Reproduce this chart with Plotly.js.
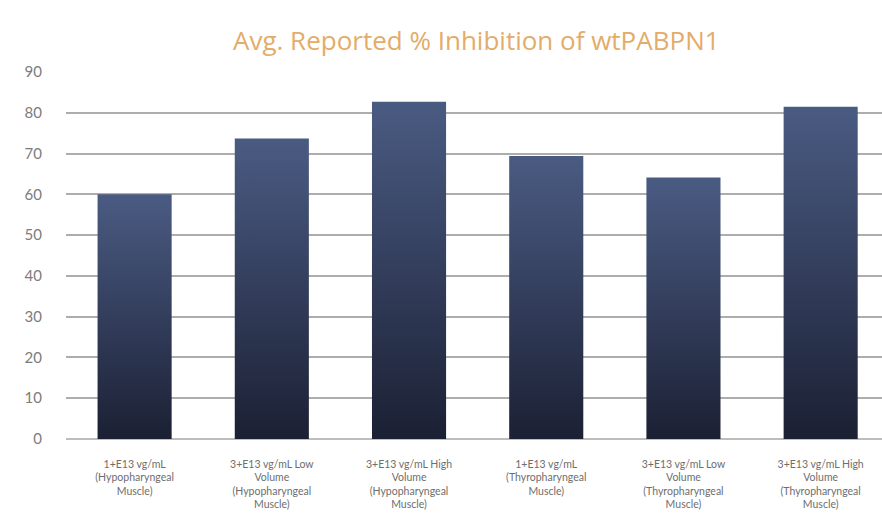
<!DOCTYPE html>
<html>
<head>
<meta charset="utf-8">
<script src="https://cdn.plot.ly/plotly-3.0.1.min.js"></script>
<style>
  html, body { margin: 0; padding: 0; background: #ffffff; }
  #chart { width: 882px; height: 524px; }
</style>
</head>
<body>
<div id="chart"></div>
<script>
// Dose groups (x categories), with line breaks as shown under each bar
const categories = [
  "1+E13 vg/mL<br>(Hypopharyngeal<br>Muscle)",
  "3+E13 vg/mL Low<br>Volume<br>(Hypopharyngeal<br>Muscle)",
  "3+E13 vg/mL High<br>Volume<br>(Hypopharyngeal<br>Muscle)",
  "1+E13 vg/mL<br>(Thyropharyngeal<br>Muscle)",
  "3+E13 vg/mL Low<br>Volume<br>(Thyropharyngeal<br>Muscle)",
  "3+E13 vg/mL High<br>Volume<br>(Thyropharyngeal<br>Muscle)"
];

// Average reported % inhibition per group
const inhibition = [60, 73.7, 82.7, 69.4, 64.1, 81.5];

// Y axis ticks
const yTicks = [0, 10, 20, 30, 40, 50, 60, 70, 80, 90];

const trace = {
  type: "bar",
  x: categories,
  y: inhibition,
  width: 0.54,
  marker: { color: "#2f3a58", line: { width: 0 } },
  hoverinfo: "y"
};

const layout = {
  width: 882,
  height: 524,
  margin: { l: 66, r: 0, t: 72, b: 85 },
  paper_bgcolor: "#ffffff",
  plot_bgcolor: "#ffffff",
  showlegend: false,
  title: {
    text: "Avg. Reported % Inhibition of wtPABPN1",
    font: { family: "Open Sans, sans-serif", size: 26, color: "#e3ac68" },
    x: 0.54,
    xanchor: "center",
    y: 0.922,
    yanchor: "middle"
  },
  xaxis: {
    type: "category",
    range: [-0.5, 5.447],
    showgrid: false,
    showline: false,
    zeroline: false,
    ticks: "",
    tickangle: 0,
    ticklabelstandoff: 17,
    tickfont: { family: "Lato, sans-serif", size: 10.5, color: "#6e6e6e" }
  },
  yaxis: {
    range: [0, 90],
    tickvals: yTicks,
    ticktext: yTicks.map(String),
    showgrid: true,
    gridcolor: "#adadad",
    gridwidth: 2,
    zeroline: true,
    zerolinecolor: "#bdbdbd",
    zerolinewidth: 2,
    showline: false,
    ticks: "",
    ticklabelstandoff: 23,
    tickfont: { family: "Lato, sans-serif", size: 15, color: "#7c7c7c" }
  }
};

// Vertical shading on each bar: lighter slate at the top to deep navy at the base
function shadeBars(gd) {
  const svg = gd.querySelector("svg.main-svg");
  if (!svg) return;
  const ns = "http://www.w3.org/2000/svg";
  let defs = svg.querySelector("defs");
  if (!defs) { defs = document.createElementNS(ns, "defs"); svg.insertBefore(defs, svg.firstChild); }
  if (!svg.querySelector("#barShade")) {
    const grad = document.createElementNS(ns, "linearGradient");
    grad.setAttribute("id", "barShade");
    grad.setAttribute("x1", "0"); grad.setAttribute("y1", "0");
    grad.setAttribute("x2", "0"); grad.setAttribute("y2", "1");
    [["0", "#4a5b82"], ["0.5", "#333e5c"], ["1", "#1b2033"]].forEach(([o, c]) => {
      const s = document.createElementNS(ns, "stop");
      s.setAttribute("offset", o); s.setAttribute("stop-color", c);
      grad.appendChild(s);
    });
    defs.appendChild(grad);
  }
  gd.querySelectorAll(".bars .point path").forEach(p => { p.style.fill = "url(#barShade)"; });
}

const gd = document.getElementById("chart");
Plotly.newPlot(gd, [trace], layout, { displayModeBar: false, staticPlot: true })
  .then(() => shadeBars(gd));
</script>
</body>
</html>
